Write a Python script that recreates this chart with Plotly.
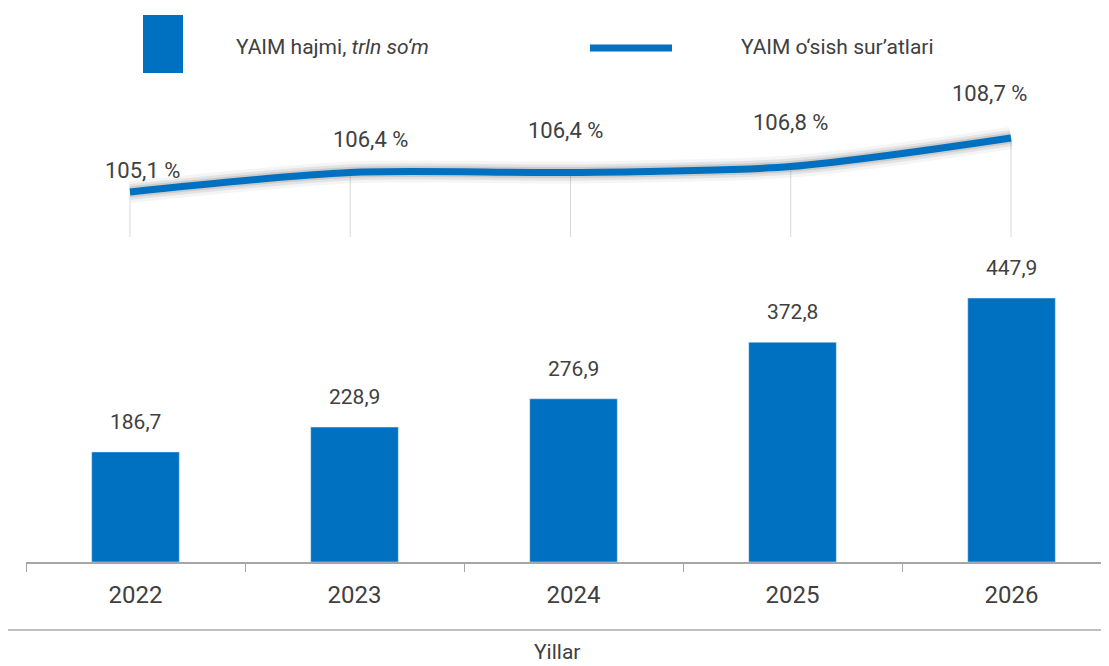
import plotly.graph_objects as go

years = ['2022', '2023', '2024', '2025', '2026']
gdp_volume = [186.7, 228.9, 276.9, 372.8, 447.9]
gdp_growth = [105.1, 106.4, 106.4, 106.8, 108.7]
volume_labels = ['186,7', '228,9', '276,9', '372,8', '447,9']
growth_labels = ['105,1 %', '106,4 %', '106,4 %', '106,8 %', '108,7 %']

W, H = 1109, 666
OFF = 8  # page margin around the plot div
FW, FH = W - OFF, H - OFF
blue = '#0070C0'
txt = '#404040'
font = 'Roboto'


def px_x(p):
    return (p - OFF) / FW


def px_y(p):
    return (H - p) / FH


idx = list(range(len(years)))
line_floor = 102.1

fig = go.Figure()

# bars
fig.add_trace(go.Bar(x=years, y=gdp_volume, marker_color=blue, width=0.40,
                     xaxis='x', yaxis='y', showlegend=False, hoverinfo='skip'))
for i, v, lab in zip(idx, gdp_volume, volume_labels):
    fig.add_annotation(x=i, y=v, xref='x', yref='y', text=lab, showarrow=False,
                       yanchor='bottom', yshift=16, font=dict(size=21, color=txt, family=font))

# drop lines under the growth line
gx, gy = [], []
for i, v in zip(idx, gdp_growth):
    gx += [i, i, None]
    gy += [line_floor, v, None]
fig.add_trace(go.Scatter(x=gx, y=gy, mode='lines', line=dict(color='#D9D9D9', width=1),
                         xaxis='x2', yaxis='y2', showlegend=False, hoverinfo='skip'))

# soft shadow behind the line
for w, a in [(22, 0.04), (16, 0.07), (11, 0.10)]:
    fig.add_trace(go.Scatter(x=idx, y=gdp_growth, mode='lines',
                             line=dict(color=f'rgba(0,0,0,{a})', width=w, shape='spline', smoothing=0.8),
                             xaxis='x2', yaxis='y2', showlegend=False, hoverinfo='skip'))

fig.add_trace(go.Scatter(x=idx, y=gdp_growth, mode='lines',
                         line=dict(color=blue, width=7, shape='spline', smoothing=0.8),
                         xaxis='x2', yaxis='y2', showlegend=False, hoverinfo='skip'))

# growth labels (hand-placed like in the source chart)
shifts = [(13, 22), (20, 33), (-5, 42), (0, 44), (-21, 45)]
for i, v, lab, (dx, dy) in zip(idx, gdp_growth, growth_labels, shifts):
    fig.add_annotation(x=i, y=v, xref='x2', yref='y2', text=lab, showarrow=False,
                       xshift=dx, yshift=dy, font=dict(size=22, color=txt, family=font))

# legend drawn by hand
fig.add_shape(type='rect', xref='paper', yref='paper', x0=px_x(143), x1=px_x(183),
              y0=px_y(73), y1=px_y(15), fillcolor=blue, line_width=0)
fig.add_shape(type='line', xref='paper', yref='paper', x0=px_x(590), x1=px_x(672),
              y0=px_y(48), y1=px_y(48), line=dict(color=blue, width=7))
fig.add_annotation(x=px_x(234), y=px_y(47), xref='paper', yref='paper', xanchor='left',
                   yanchor='middle', text='YAIM hajmi, <i>trln so‘m</i>', showarrow=False,
                   font=dict(size=21, color=txt, family=font))
fig.add_annotation(x=px_x(739), y=px_y(47), xref='paper', yref='paper', xanchor='left',
                   yanchor='middle', text='YAIM o‘sish sur’atlari', showarrow=False,
                   font=dict(size=21, color=txt, family=font))

# bottom separator and axis title
fig.add_shape(type='line', xref='paper', yref='paper', x0=0, x1=1,
              y0=px_y(630), y1=px_y(630), line=dict(color='#BFBFBF', width=2))
fig.add_annotation(x=px_x(557), y=px_y(652), xref='paper', yref='paper', text='Yillar',
                   yanchor='middle', showarrow=False, font=dict(size=21, color=txt, family=font))

fig.update_layout(
    width=FW, height=FH, margin=dict(l=0, r=0, t=0, b=0),
    paper_bgcolor='white', plot_bgcolor='white', bargap=0.6,
    xaxis=dict(domain=[px_x(26), 1], type='category', range=[-0.5, 4.445],
               showline=True, linecolor='#A6A6A6', linewidth=1.5,
               ticks='outside', tickson='boundaries', ticklen=8, tickcolor='#A6A6A6',
               tickfont=dict(size=24, color=txt, family=font), ticklabelstandoff=10,
               showgrid=False, zeroline=False, anchor='y'),
    yaxis=dict(domain=[px_y(562), px_y(260)], range=[0, 512.4], visible=False,
               showgrid=False, zeroline=False),
    xaxis2=dict(domain=[px_x(26), 1], range=[-0.472, 4.445], visible=False,
                showgrid=False, zeroline=False, anchor='y2'),
    yaxis2=dict(domain=[px_y(237), px_y(90)], range=[line_floor, 111.9], visible=False,
                showgrid=False, zeroline=False, anchor='x2'),
)

fig.write_html('out.html')
